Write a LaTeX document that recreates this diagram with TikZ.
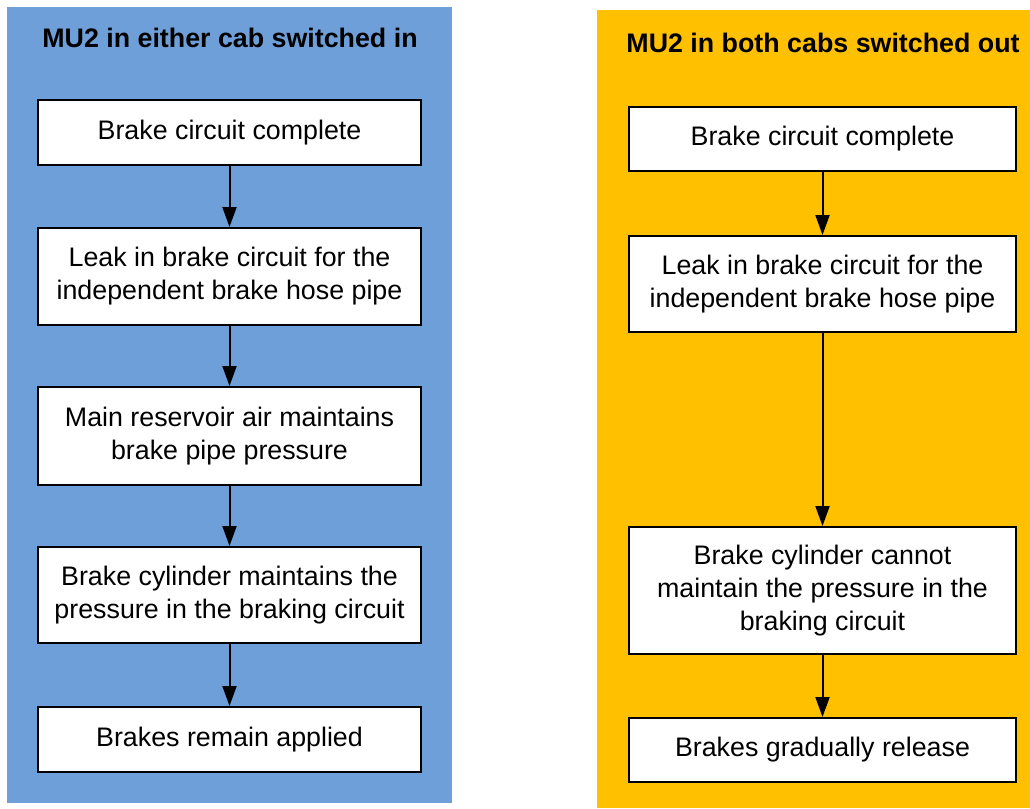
\documentclass[tikz,border=0pt]{standalone}
\usepackage{fontspec}
\setmainfont{Liberation Sans}
\usetikzlibrary{arrows.meta}
\definecolor{panelblue}{HTML}{6F9FD9}
\definecolor{panelgold}{HTML}{FFC000}
\tikzset{
  stepbox/.style={draw=black, line width=2pt, fill=white, rectangle,
    align=center, inner sep=0pt, font=\fontsize{26.8}{33}\selectfont},
  flow/.style={line width=2pt, -{Triangle[width=14pt,length=20pt]}},
  paneltitle/.style={font=\fontsize{26.8}{30}\selectfont\bfseries, anchor=center}
}
\begin{document}
\begin{tikzpicture}[x=1pt,y=-1pt]
\useasboundingbox (0,0) rectangle (1030,808);
% panels
\fill[panelblue] (7,7) rectangle (452,803);
\fill[panelgold] (597,10) rectangle (1030,808);
\node[paneltitle] (tl) at (230,38) {MU2 in either cab switched in};
\node[paneltitle] (tr) at (823,43) {MU2 in both cabs switched out};
% left column
\node[stepbox, minimum width=383pt, minimum height=65pt] (l1) at (229.5,132.5) {Brake circuit complete};
\node[stepbox, minimum width=383pt, minimum height=97pt] (l2) at (229.5,276.5) {Leak in brake circuit for the\\independent brake hose pipe};
\node[stepbox, minimum width=383pt, minimum height=98pt] (l3) at (229.5,436) {Main reservoir air maintains\\brake pipe pressure};
\node[stepbox, minimum width=383pt, minimum height=96pt] (l4) at (229.5,595) {Brake cylinder maintains the\\pressure in the braking circuit};
\node[stepbox, minimum width=383pt, minimum height=65pt] (l5) at (229.5,739.5) {Brakes remain applied};
\draw[flow] (l1) -- (l2);
\draw[flow] (l2) -- (l3);
\draw[flow] (l3) -- (l4);
\draw[flow] (l4) -- (l5);
% right column
\node[stepbox, minimum width=387pt, minimum height=64pt] (r1) at (822.5,139) {Brake circuit complete};
\node[stepbox, minimum width=387pt, minimum height=96pt] (r2) at (822.5,284) {Leak in brake circuit for the\\independent brake hose pipe};
\node[stepbox, minimum width=387pt, minimum height=127pt] (r3) at (822.5,590.5) {Brake cylinder cannot\\maintain the pressure in the\\braking circuit};
\node[stepbox, minimum width=387pt, minimum height=64pt] (r4) at (822.5,750) {Brakes gradually release};
\draw[flow] (r1) -- (r2);
\draw[flow] (r2) -- (r3);
\draw[flow] (r3) -- (r4);
\end{tikzpicture}
\end{document}
